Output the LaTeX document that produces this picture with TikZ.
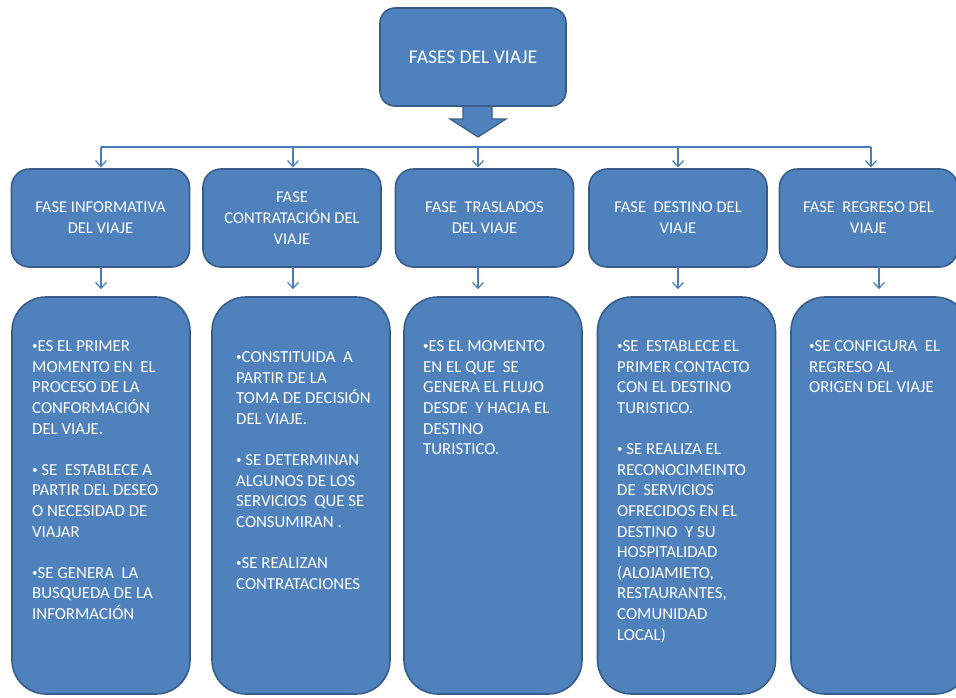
\documentclass[tikz,border=0pt]{standalone}
\usepackage{fontspec}
\setmainfont{Carlito}
\usetikzlibrary{arrows.meta}
\definecolor{boxfill}{HTML}{4F81BD}
\definecolor{boxline}{HTML}{385D8A}
\definecolor{conn}{HTML}{4A7EBB}
\newcommand\bul{{\fontsize{11}{11}\selectfont\raisebox{1.8pt}{•}}}
\begin{document}
\begin{tikzpicture}[x=1pt,y=-1pt,
  topbox/.style={draw=boxline, line width=1.6pt, fill=boxfill, text=white,
    rounded corners=15pt, inner sep=0pt, minimum width=186pt, minimum height=98pt,
    font=\fontsize{19.5}{23}\selectfont},
  phasebox/.style={draw=boxline, line width=1.6pt, fill=boxfill, text=white,
    rounded corners=18pt, inner sep=0pt, minimum width=178pt, minimum height=98pt,
    align=center, font=\fontsize{16.5}{21.2}\selectfont},
  detbox/.style={draw=boxline, line width=1.6pt, fill=boxfill,
    rounded corners=34pt, inner sep=0pt, minimum width=178pt, minimum height=397pt},
  dettext/.style={text=white, anchor=north west, align=left, inner sep=0pt,
    font=\fontsize{16.8}{20.6}\selectfont},
  conline/.style={draw=conn, line width=1.2pt},
  conarrow/.style={conline, -{Straight Barb[length=6pt,width=11pt,line width=1.2pt]}},
  blockarrow/.style={draw=boxline, line width=1.2pt, fill=boxfill}
]
\useasboundingbox (0,0) rectangle (956,697);
\clip (0,0) rectangle (956,697);

% block arrow under the top box
\draw[blockarrow] (463,104) -- (463,119) -- (450,119) -- (478,137) -- (506,119)
  -- (492,119) -- (492,104) -- cycle;
\node[topbox] (top) at (473,57) {FASES DEL VIAJE};

% phase boxes
\node[phasebox] (f1) at (100.5,218) {FASE INFORMATIVA\\DEL VIAJE};
\node[phasebox] (f2) at (292,218) {FASE\\CONTRATACIÓN DEL\\VIAJE};
\node[phasebox] (f3) at (484.5,218) {FASE~ TRASLADOS\\DEL VIAJE};
\node[phasebox] (f4) at (678,218) {FASE~ DESTINO DEL\\VIAJE};
\node[phasebox] (f5) at (868.5,218) {FASE~ REGRESO DEL\\VIAJE};

% bus line
\coordinate (j1) at (101,147);
\coordinate (j2) at (293,147);
\coordinate (j3) at (478,147);
\coordinate (j4) at (678,147);
\coordinate (j5) at (871,147);
\draw[conline] (j1) -- (j5);
\foreach \i in {1,...,5} {
  \draw[conarrow, shorten >=0.8pt] (j\i) -- (j\i |- f\i.north);
}

% detail boxes
\node[detbox] (d1) at (101,495.5) {};
\node[detbox] (d2) at (301,495.5) {};
\node[detbox] (d3) at (493,495.5) {};
\node[detbox] (d4) at (686.5,495.5) {};
\node[detbox] (d5) at (880,495.5) {};

% arrows phase -> detail
\coordinate (k1) at (101,267);
\coordinate (k2) at (293,267);
\coordinate (k3) at (478,267);
\coordinate (k4) at (678,267);
\coordinate (k5) at (879,267);
\foreach \i in {1,...,5} {
  \draw[conarrow, shorten >=7pt] (k\i) -- (k\i |- d\i.north);
}

% detail texts
\node[dettext] (t1) at (32,340.6) {\bul ES EL PRIMER\\MOMENTO EN~ EL\\PROCESO DE LA\\CONFORMACIÓN\\DEL VIAJE.\\[20.6pt]
\bul\ SE~ ESTABLECE A\\PARTIR DEL DESEO\\O NECESIDAD DE\\VIAJAR\\[20.6pt]
\bul SE GENERA~ LA\\BUSQUEDA DE LA\\INFORMACIÓN};
\node[dettext] (t2) at (236,351.6) {\bul CONSTITUIDA~ A\\PARTIR DE LA\\TOMA DE DECISIÓN\\DEL VIAJE.\\[20.6pt]
\bul\ SE DETERMINAN\\ALGUNOS DE LOS\\SERVICIOS~ QUE SE\\CONSUMIRAN .\\[20.6pt]
\bul SE REALIZAN\\CONTRATACIONES};
\node[dettext] (t3) at (423,340.6) {\bul ES EL MOMENTO\\EN EL QUE~ SE\\GENERA EL FLUJO\\DESDE~ Y HACIA EL\\DESTINO\\TURISTICO.};
\node[dettext] (t4) at (617,340.6) {\bul SE~ ESTABLECE EL\\PRIMER CONTACTO\\CON EL DESTINO\\TURISTICO.\\[20.6pt]
\bul\ SE REALIZA EL\\RECONOCIMEINTO\\DE~ SERVICIOS\\OFRECIDOS EN EL\\DESTINO~ Y SU\\HOSPITALIDAD\\(ALOJAMIETO,\\RESTAURANTES,\\COMUNIDAD\\LOCAL)};
\node[dettext] (t5) at (809,340.6) {\bul SE CONFIGURA~ EL\\REGRESO AL\\ORIGEN DEL VIAJE};
\end{tikzpicture}
\end{document}
